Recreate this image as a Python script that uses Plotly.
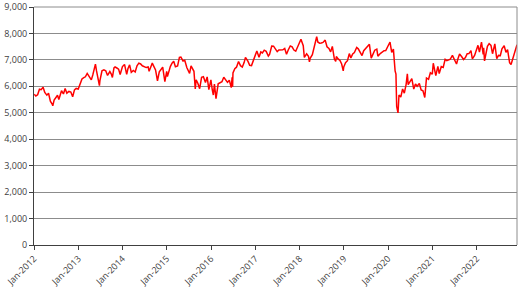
import plotly.graph_objects as go

dates = [
"2012-01-03","2012-01-16","2012-01-31","2012-02-15","2012-02-29","2012-03-16","2012-03-30","2012-04-16","2012-04-30","2012-05-15","2012-05-31","2012-06-04","2012-06-15","2012-06-29","2012-07-13","2012-07-24","2012-07-31","2012-08-15","2012-08-31","2012-09-14","2012-09-28","2012-10-15","2012-10-31","2012-11-15","2012-11-30","2012-12-14","2012-12-31",
"2013-01-15","2013-01-31","2013-02-15","2013-02-28","2013-03-15","2013-03-28","2013-04-18","2013-04-30","2013-05-22","2013-05-31","2013-06-13","2013-06-24","2013-06-28","2013-07-15","2013-07-31","2013-08-15","2013-08-30","2013-09-18","2013-09-30","2013-10-09","2013-10-22","2013-10-31","2013-11-15","2013-11-29","2013-12-12","2013-12-31",
"2014-01-17","2014-02-04","2014-02-14","2014-02-28","2014-03-14","2014-03-31","2014-04-15","2014-04-30","2014-05-15","2014-05-30","2014-06-13","2014-06-30","2014-07-15","2014-07-31","2014-08-08","2014-08-29","2014-09-03","2014-09-30","2014-10-16","2014-10-31","2014-11-14","2014-11-28","2014-12-16","2014-12-31",
"2015-01-06","2015-01-16","2015-01-30","2015-02-13","2015-02-27","2015-03-13","2015-03-31","2015-04-15","2015-04-27","2015-05-15","2015-05-29","2015-06-15","2015-06-30","2015-07-08","2015-07-20","2015-07-31","2015-08-13","2015-08-24","2015-08-31","2015-09-14","2015-09-29","2015-10-15","2015-10-30","2015-11-16","2015-11-30","2015-12-14","2015-12-31",
"2016-01-11","2016-01-20","2016-01-29","2016-02-11","2016-02-29","2016-03-15","2016-03-31","2016-04-15","2016-04-29","2016-05-16","2016-05-31","2016-06-16","2016-06-23","2016-06-27","2016-06-30","2016-07-15","2016-07-29","2016-08-15","2016-08-31","2016-09-15","2016-09-30","2016-10-11","2016-10-31","2016-11-08","2016-11-15","2016-11-30","2016-12-15","2016-12-30",
"2017-01-13","2017-01-31","2017-02-15","2017-02-28","2017-03-15","2017-03-31","2017-04-18","2017-04-28","2017-05-16","2017-05-31","2017-06-15","2017-06-30","2017-07-14","2017-07-31","2017-08-15","2017-08-31","2017-09-15","2017-09-29","2017-10-16","2017-10-31","2017-11-15","2017-11-30","2017-12-15","2017-12-29",
"2018-01-12","2018-01-31","2018-02-09","2018-02-28","2018-03-15","2018-03-23","2018-03-29","2018-04-16","2018-04-30","2018-05-22","2018-05-31","2018-06-15","2018-06-29","2018-07-13","2018-07-31","2018-08-15","2018-08-31","2018-09-14","2018-09-28","2018-10-15","2018-10-26","2018-10-31","2018-11-15","2018-11-30","2018-12-14","2018-12-27","2018-12-31",
"2019-01-15","2019-01-31","2019-02-15","2019-02-28","2019-03-15","2019-03-29","2019-04-17","2019-04-30","2019-05-15","2019-05-31","2019-06-14","2019-06-28","2019-07-15","2019-07-26","2019-07-31","2019-08-15","2019-08-30","2019-09-13","2019-09-30","2019-10-09","2019-10-31","2019-11-15","2019-11-29","2019-12-13","2019-12-31",
"2020-01-17","2020-01-31","2020-02-14","2020-02-28","2020-03-06","2020-03-12","2020-03-16","2020-03-23","2020-03-31","2020-04-15","2020-04-30","2020-05-14","2020-05-29","2020-06-08","2020-06-15","2020-06-30","2020-07-15","2020-07-31","2020-08-14","2020-08-28","2020-09-15","2020-09-30","2020-10-15","2020-10-30","2020-11-13","2020-11-30","2020-12-15","2020-12-31",
"2021-01-08","2021-01-29","2021-02-15","2021-02-26","2021-03-15","2021-03-31","2021-04-16","2021-04-30","2021-05-12","2021-05-28","2021-06-15","2021-06-30","2021-07-19","2021-07-30","2021-08-13","2021-08-31","2021-09-15","2021-09-30","2021-10-15","2021-10-29","2021-11-15","2021-11-26","2021-11-30","2021-12-15","2021-12-31",
"2022-01-12","2022-01-24","2022-01-31","2022-02-10","2022-02-24","2022-02-28","2022-03-07","2022-03-15","2022-03-31","2022-04-14","2022-04-29","2022-05-12","2022-05-31","2022-06-16","2022-06-30","2022-07-15","2022-07-29","2022-08-16","2022-08-31","2022-09-13","2022-09-30","2022-10-12","2022-10-31","2022-11-15","2022-11-30",
]

values = [
5700,5636,5681,5892,5872,5965,5768,5667,5738,5437,5321,5260,5478,5571,5664,5499,5635,5833,5711,5916,5742,5806,5783,5605,5867,5921,5898,
6118,6277,6328,6361,6489,6412,6244,6430,6840,6583,6304,6029,6215,6586,6621,6587,6413,6558,6462,6337,6696,6731,6693,6651,6445,6749,
6829,6449,6663,6810,6527,6598,6541,6780,6878,6845,6777,6744,6710,6730,6567,6820,6877,6623,6211,6546,6654,6723,6182,6566,
6367,6550,6749,6873,6947,6741,6773,7097,7104,6960,6984,6710,6521,6490,6775,6696,6568,5898,6248,6118,5909,6338,6361,6146,6356,5874,6242,
5871,5673,6084,5537,6097,6140,6175,6343,6242,6151,6231,5950,6338,5982,6504,6669,6724,6941,6782,6730,6899,7097,6954,6843,6792,6784,6999,7143,
7338,7099,7302,7263,7368,7323,7147,7204,7522,7520,7419,7313,7378,7372,7383,7431,7215,7373,7527,7493,7372,7327,7490,7688,
7778,7534,7092,7232,7139,6922,7057,7198,7509,7877,7678,7633,7637,7661,7749,7497,7432,7304,7510,7030,6940,7128,7038,6980,6845,6585,6728,
6895,6969,7237,7075,7228,7279,7471,7418,7297,7162,7346,7426,7531,7549,7587,7067,7207,7367,7408,7143,7248,7303,7347,7353,7542,
7675,7286,7409,6581,6463,5237,5151,4994,5672,5598,5901,5741,6077,6473,6065,6170,6293,5898,6090,6001,6105,5866,5832,5577,6316,6266,6513,6461,
6873,6407,6756,6483,6749,6714,7020,6970,7004,7023,7172,7037,6845,7032,7219,7120,7016,7086,7234,7238,7352,7044,7059,7171,7385,
7551,7297,7464,7672,7207,7458,6959,7176,7516,7616,7545,7233,7608,7044,7169,7159,7423,7536,7284,7385,6894,6826,7095,7369,7573,
]

y_ticks = [0, 1000, 2000, 3000, 4000, 5000, 6000, 7000, 8000, 9000]

fig = go.Figure()
fig.add_trace(go.Scatter(x=dates, y=values, mode="lines",
                         line=dict(color="#FF0000", width=1.5),
                         showlegend=False, hoverinfo="skip"))

fig.update_layout(
    width=532, height=293,
    margin=dict(l=34, r=15, t=7, b=48, autoexpand=False),
    paper_bgcolor="white", plot_bgcolor="white",
    font=dict(family="Open Sans", size=9, color="#404040"),
)
fig.update_xaxes(
    type="date", range=["2012-01-01", "2022-11-30"],
    tick0="2012-01-01", dtick="M12", tickformat="%b-%Y",
    tickangle=-45, ticks="outside", ticklen=4, tickcolor="#404040",
    showline=True, linecolor="#404040", linewidth=1,
    showgrid=False, zeroline=False, ticklabeloverflow="allow", automargin=False,
)
fig.update_yaxes(
    range=[0, 9000], tickmode="array", tickvals=y_ticks,
    ticktext=[f"{v:,}" for v in y_ticks],
    ticks="outside", ticklen=4, tickcolor="#404040",
    showline=True, linecolor="#404040", linewidth=1,
    showgrid=True, gridcolor="#8C8C8C", gridwidth=1, zeroline=False,
    ticklabeloverflow="allow", automargin=False,
)
fig.add_shape(type="line", xref="paper", yref="paper", x0=1, x1=1, y0=0, y1=1,
              line=dict(color="#8C8C8C", width=1))
fig.add_shape(type="line", xref="paper", yref="paper", x0=0, x1=1, y0=1, y1=1,
              line=dict(color="#8C8C8C", width=1))

fig.write_html("out.html")
